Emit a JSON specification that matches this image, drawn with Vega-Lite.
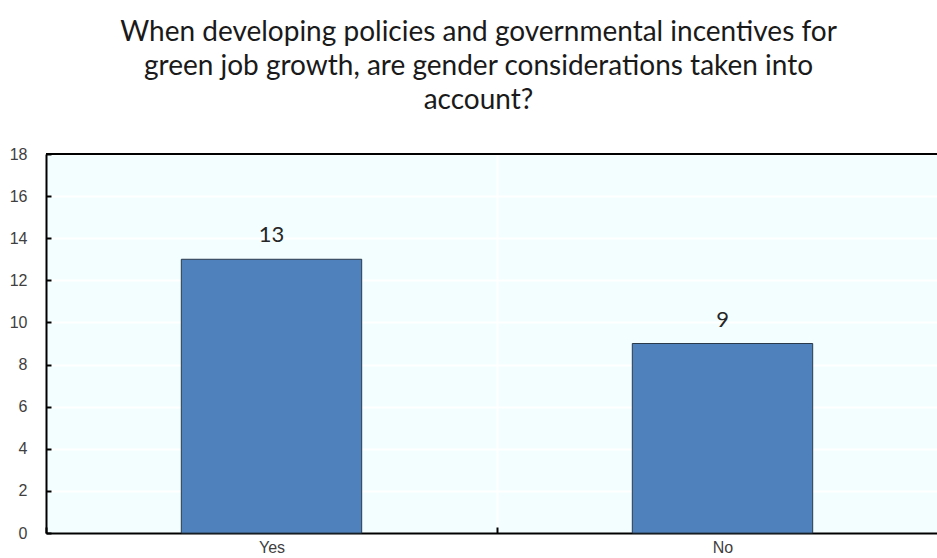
{
  "$schema": "https://vega.github.io/schema/vega-lite/v6.json",
  "autosize": {"type": "none"},
  "width": 891,
  "height": 379,
  "padding": {"left": 46, "top": 154, "right": 0, "bottom": 25},
  "background": "white",
  "title": {
    "text": ["When developing policies and governmental incentives for", "green job growth, are gender considerations taken into", "account?"],
    "font": "Lato",
    "fontSize": 28,
    "fontWeight": "normal",
    "lineHeight": 34,
    "color": "#1a1a1a",
    "anchor": "middle",
    "frame": "group",
    "dx": -13,
    "offset": 31
  },
  "config": {
    "view": {"fill": "#F2FEFF", "stroke": null},
    "axis": {"labelFont": "Liberation Sans", "labelFontSize": 16, "labelColor": "#404040"}
  },
  "data": {"values": [
    {"answer": "Yes", "count": 13},
    {"answer": "No", "count": 9}
  ]},
  "layer": [
    {
      "mark": {"type": "bar", "color": "#4F81BD", "stroke": "#2B3A4A", "strokeWidth": 1, "width": {"band": 0.4}},
      "encoding": {
        "x": {
          "field": "answer", "type": "nominal", "sort": ["Yes", "No"],
          "scale": {"range": [0, 902], "paddingInner": 0, "paddingOuter": 0},
          "axis": {
            "title": null, "labelAngle": 0, "tickBand": "extent",
            "domainColor": "#000000", "domainWidth": 2,
            "tickColor": "#000000", "tickWidth": 2, "tickSize": -6,
            "labelPadding": 12,
            "grid": true, "gridColor": "#FFFFFF", "gridWidth": 2
          }
        },
        "y": {
          "field": "count", "type": "quantitative",
          "scale": {"domain": [0, 18]},
          "axis": {
            "title": null, "values": [0, 2, 4, 6, 8, 10, 12, 14, 16, 18],
            "domainColor": "#000000", "domainWidth": 2,
            "tickColor": "#000000", "tickWidth": 2, "tickSize": -5,
            "labelPadding": 24,
            "grid": true, "gridColor": "#FFFFFF", "gridWidth": 2
          }
        }
      }
    },
    {
      "mark": {"type": "text", "font": "Lato", "fontSize": 22, "color": "#262626", "baseline": "alphabetic", "dy": -17},
      "encoding": {
        "x": {"field": "answer", "type": "nominal", "sort": ["Yes", "No"]},
        "y": {"field": "count", "type": "quantitative"},
        "text": {"field": "count", "type": "quantitative"}
      }
    },
    {
      "mark": {"type": "rule", "color": "#000000", "strokeWidth": 2},
      "encoding": {"y": {"datum": 18}}
    }
  ]
}
